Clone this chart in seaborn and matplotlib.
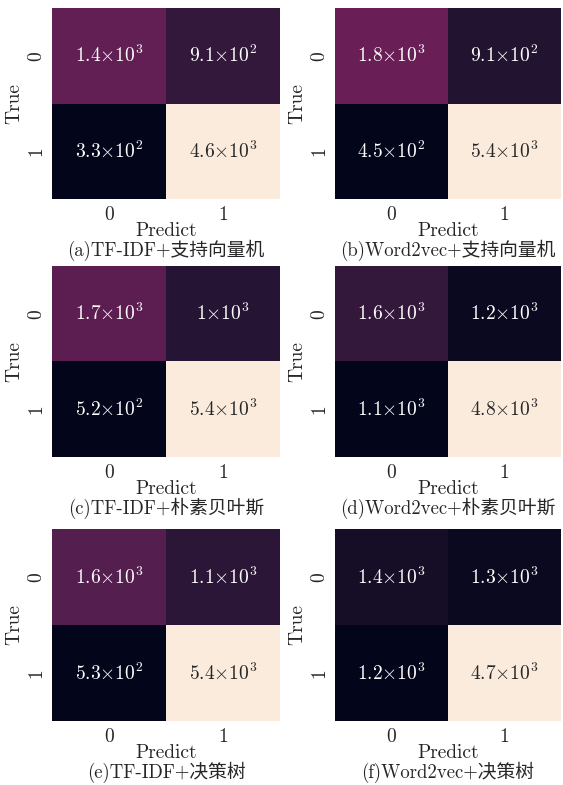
import numpy as np
import pandas as pd
import matplotlib
matplotlib.use("Agg")
import matplotlib.pyplot as plt
import seaborn as sns

sns.set_theme(style="white")
plt.rcParams['font.family'] = ['cmr10', 'Noto Sans CJK SC', 'DejaVu Sans']
plt.rcParams['mathtext.fontset'] = 'cm'
plt.rcParams['axes.unicode_minus'] = False
plt.rcParams['axes.formatter.use_mathtext'] = True

# 混淆矩陣數值 (從圖上讀取, 兩位有效數字)
labels = ["0", "1"]
titles = [
    "(a)TF-IDF+支持向量机",
    "(b)Word2vec+支持向量机",
    "(c)TF-IDF+朴素贝叶斯",
    "(d)Word2vec+朴素贝叶斯",
    "(e)TF-IDF+决策树",
    "(f)Word2vec+决策树",
]
cm_a = [[1400, 910], [330, 4600]]
cm_b = [[1800, 910], [450, 5400]]
cm_c = [[1700, 1000], [520, 5400]]
cm_d = [[1600, 1200], [1100, 4800]]
cm_e = [[1600, 1100], [530, 5400]]
cm_f = [[1400, 1300], [1200, 4700]]
matrices = [cm_a, cm_b, cm_c, cm_d, cm_e, cm_f]


def sci_label(v):
    s = f"{v:.2g}"
    mant, exp = s.split("e")
    return rf"${mant}{{\times}}10^{{{int(exp)}}}$"


def main():
    fig = plt.figure(figsize=(5.63, 7.85), dpi=100)
    W, H = 563, 785
    lefts = [52, 335]
    widths = [228, 226]
    tops = [8, 266, 529]
    heights = [191, 191, 192]

    for i, (cm, title) in enumerate(zip(matrices, titles)):
        r, c = divmod(i, 2)
        rect = [lefts[c] / W, 1 - (tops[r] + heights[r]) / H,
                widths[c] / W, heights[r] / H]
        ax = fig.add_axes(rect)
        df = pd.DataFrame(cm, index=labels, columns=labels)
        annot = np.array([[sci_label(v) for v in row] for row in cm])
        sns.heatmap(df, annot=annot, fmt="", cmap="rocket", cbar=False,
                    annot_kws={"fontsize": 14}, ax=ax)
        ax.tick_params(length=0, labelsize=14, pad=5)
        ax.set_yticklabels(labels, rotation=90, va="center")
        ax.set_xticklabels(labels, rotation=0)
        ax.set_xlabel("Predict", fontsize=14, labelpad=-1)
        ax.set_ylabel("True", fontsize=14, labelpad=3)
        ax.text(0.5, -0.268, title, transform=ax.transAxes,
                ha="center", va="center", fontsize=13.5)

    fig.savefig("out.png", dpi=100)


if __name__ == "__main__":
    main()
